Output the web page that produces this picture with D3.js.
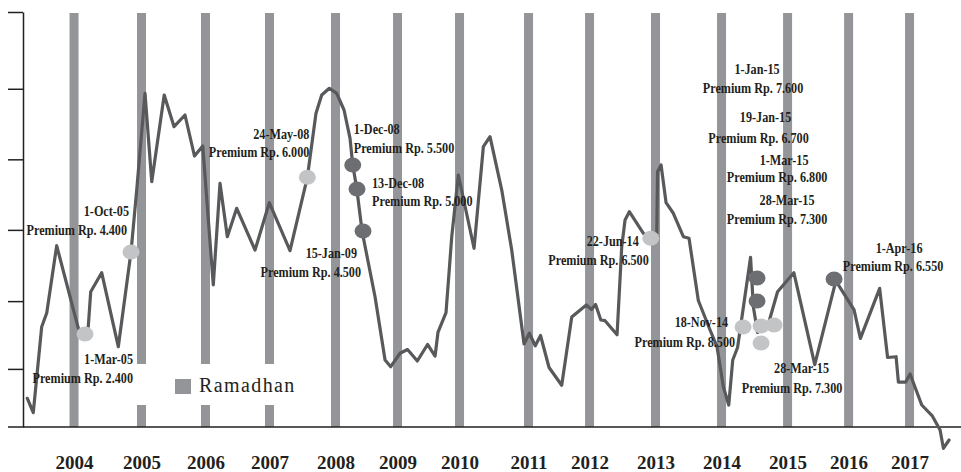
<!DOCTYPE html>
<html>
<head>
<meta charset="utf-8">
<script src="https://cdnjs.cloudflare.com/ajax/libs/d3/7.8.5/d3.min.js"></script>
<style>
  body { margin: 0; background: #fff; }
  .chart text { font-family: "Liberation Serif", "Times New Roman", serif; fill: #231f20; }
</style>
</head>
<body>
<div class="chart"></div>
<script>
// posisi waktu dalam tahun desimal, nilai indeks tanpa satuan (sumbu y tanpa label)
let lineT = [2004.096, 2004.186, 2004.314, 2004.390, 2004.541, 2004.869, 2004.970, 2005.020, 2005.057, 2005.223,
             2005.475, 2005.668, 2005.754, 2005.880, 2005.982, 2006.171, 2006.320, 2006.486, 2006.630, 2006.755,
             2006.915, 2007.017, 2007.128, 2007.270, 2007.548, 2007.764, 2008.078, 2008.341, 2008.472, 2008.559,
             2008.674, 2008.786, 2008.897, 2008.988, 2009.029, 2009.089, 2009.170, 2009.367, 2009.519, 2009.605,
             2009.746, 2009.860, 2010.008, 2010.163, 2010.277, 2010.322, 2010.443, 2010.530, 2010.630, 2010.868,
             2011.009, 2011.110, 2011.288, 2011.439, 2011.626, 2011.706, 2011.796, 2011.876, 2012.005, 2012.197,
             2012.349, 2012.570, 2012.649, 2012.710, 2012.790, 2012.854, 2013.036, 2013.107, 2013.157, 2013.222,
             2013.435, 2013.547, 2013.638, 2013.650, 2013.703, 2013.779, 2013.889, 2014.041, 2014.127, 2014.268,
             2014.446, 2014.552, 2014.647, 2014.729, 2014.790, 2014.863, 2015.060, 2015.102, 2015.166, 2015.325,
             2015.469, 2015.716, 2016.033, 2016.353, 2016.629, 2016.725, 2017.017, 2017.137, 2017.266, 2017.301,
             2017.410, 2017.478, 2017.655, 2017.811, 2017.933, 2017.983, 2018.069];
let lineV = [0.415, 0.207, 1.450, 1.648, 2.621, 1.427, 1.345, 1.450, 1.956, 2.231,
             1.161, 2.534, 3.426, 4.824, 3.546, 4.800, 4.342, 4.511, 3.918, 4.063,
             2.053, 3.523, 2.751, 3.162, 2.559, 3.243, 2.549, 3.610, 4.535, 4.800,
             4.897, 4.824, 4.583, 4.174, 3.788, 3.455, 2.834, 1.884, 0.969, 0.872,
             1.066, 1.120, 0.954, 1.193, 1.026, 1.373, 1.655, 2.751, 3.643, 2.584,
             4.052, 4.197, 3.426, 2.559, 1.200, 1.355, 1.175, 1.323, 0.860, 0.603,
             1.590, 1.764, 1.699, 1.771, 1.547, 1.537, 1.334, 2.607, 2.993, 3.113,
             2.800, 2.728, 2.800, 3.691, 3.788, 3.243, 3.090, 2.751, 2.728, 1.829,
             1.402, 1.157, 0.583, 0.318, 0.969, 1.149, 2.453, 1.739, 1.366, 1.475,
             1.956, 2.231, 0.901, 2.114, 1.692, 1.282, 2.005, 1.005, 1.016, 0.648,
             0.648, 0.766, 0.318, 0.166, -0.043, -0.308, -0.188];

// bulan Ramadhan tiap tahun (batang abu-abu) dan label tahunnya
let ramadhanT = [2004.804, 2005.827, 2006.797, 2007.767, 2008.768, 2009.708, 2010.648,
                 2011.694, 2012.619, 2013.619, 2014.620, 2015.621, 2016.546, 2017.470];
let yearLabels = ["2004", "2005", "2006", "2007", "2008", "2009", "2010",
                  "2011", "2012", "2013", "2014", "2015", "2016", "2017"];

let yTicks = [0.84, 1.82, 2.85, 3.87, 4.89, 6];

// perubahan harga Premium
let eventDate = ["1-Mar-05", "1-Oct-05", "24-May-08", "1-Dec-08", "13-Dec-08", "15-Jan-09", "22-Jun-14",
                 "18-Nov-14", "1-Jan-15", "19-Jan-15", "1-Mar-15", "28-Mar-15", "28-Mar-15", "1-Apr-16"];
let eventPrice = ["2.400", "4.400", "6.000", "5.500", "5.000", "4.500", "6.500",
                  "8.500", "7.600", "6.700", "6.800", "7.300", "7.300", "6.550"];
let eventType = ["naik", "naik", "naik", "turun", "turun", "turun", "naik",
                 "naik", "turun", "turun", "naik", "naik", "naik", "turun"];
let eventT = [2004.970, 2005.668, 2008.341, 2009.029, 2009.094, 2009.185, 2013.547,
              2014.946, 2015.158, 2015.158, 2015.219, 2015.416, 2015.219, 2016.326];
let eventV = [1.345, 2.530, 3.610, 3.788, 3.441, 2.834, 2.728,
              1.446, 2.154, 1.822, 1.460, 1.475, 1.214, 2.140];

// letak label relatif terhadap titik: anchor, dx/dy baris 1, dx/dy baris 2
let labelPos = [
  ["end", 48, 30, 48, 49], ["end", -2, -36, -4, -17], ["end", 2, -38, 2, -20],
  ["start", 1, -31, 1, -12], ["start", 15, -1, 15, 17], ["end", -6, 27, -2, 46],
  ["end", -12, 8, -2, 27], ["end", -15, 0, -8, 20], ["middle", 0, -204, -4, -185],
  ["middle", 8.5, -179, 1.5, -158], ["middle", 23, -161, 16, -144], ["middle", 13, -120, 3, -101],
  ["middle", 40.5, 30, 31, 50], ["middle", 65, -26, 59, -8]
];

let lineColor = "#58595b";
let barColor = "#939598";
let markerColor = {naik: "#c3c4c6", turun: "#6d6e71"};

let margin = {top: 12, right: 0, bottom: 45, left: 21};
let width = 961 - margin.left - margin.right,
    height = 472 - margin.top - margin.bottom;

let svg = d3.select(".chart").append("svg")
    .attr("width", width + margin.left + margin.right)
    .attr("height", height + margin.top + margin.bottom)
    .append("g")
    .attr("transform", "translate(" + margin.left + "," + margin.top + ")");

const xScale = d3.scaleLinear().domain([2004, 2018.25]).range([0, width]);
const yScale = d3.scaleLinear().domain([0, 6]).range([height, 0]);

let data = lineT.map((t, i) => ({t: t, v: lineV[i]}));

// batang Ramadhan
svg.selectAll(".ramadhan")
  .data(ramadhanT)
  .enter().append("rect")
  .attr("class", "ramadhan")
  .attr("x", d => xScale(d) - 4.5)
  .attr("y", 1)
  .attr("width", 9)
  .attr("height", height - 1)
  .attr("fill", barColor);

// legenda (dengan latar putih menutup batang)
let legend = svg.append("g").attr("transform", "translate(113, 352)");
legend.append("rect").attr("width", 186).attr("height", 41).attr("fill", "#fff");
legend.append("rect").attr("x", 41).attr("y", 15).attr("width", 16).attr("height", 15).attr("fill", barColor);
legend.append("text").attr("x", 65).attr("y", 28)
  .style("font-size", "20px").style("letter-spacing", "1.4px")
  .text("Ramadhan");

// sumbu y
let yAxis = svg.append("g")
  .attr("transform", "translate(2,0)")
  .call(d3.axisLeft(yScale).tickValues(yTicks).tickSize(15).tickSizeOuter(0).tickFormat(""));
yAxis.selectAll("line, path").attr("stroke", "#231f20").attr("stroke-width", 1.5);

// sumbu x
let xAxis = svg.append("g")
  .attr("transform", `translate(0, ${height})`)
  .call(d3.axisBottom(xScale).tickValues(ramadhanT).tickSize(0).tickPadding(29)
    .tickFormat((d, i) => yearLabels[i]));
xAxis.select(".domain").remove();
xAxis.selectAll("text")
  .attr("fill", "#231f20")
  .style("font-size", "19px").style("font-weight", "bold");
xAxis.append("line")
  .attr("x1", -13).attr("x2", width)
  .attr("stroke", "#231f20").attr("stroke-width", 1.3);

// garis harga
svg.append("path")
  .datum(data)
  .attr("fill", "none")
  .attr("stroke", lineColor)
  .attr("stroke-width", 3.2)
  .attr("stroke-linejoin", "round")
  .attr("stroke-linecap", "round")
  .attr("d", d3.line()
    .x(d => xScale(d.t))
    .y(d => yScale(d.v)));

// titik perubahan harga
svg.selectAll(".event")
  .data(eventT)
  .enter().append("ellipse")
  .attr("class", "event")
  .attr("cx", d => xScale(d))
  .attr("cy", (d, i) => yScale(eventV[i]))
  .attr("rx", 8.5)
  .attr("ry", 7.5)
  .attr("fill", (d, i) => markerColor[eventType[i]]);

// label
eventT.forEach(function(t, i) {
  let p = labelPos[i];
  let px = xScale(t), py = yScale(eventV[i]);
  let lines = [eventDate[i], "Premium Rp. " + eventPrice[i]];
  lines.forEach(function(txt, k) {
    svg.append("text")
      .attr("transform", `translate(${px + p[1 + 2 * k]},${py + p[2 + 2 * k]}) scale(0.84,1)`)
      .attr("text-anchor", p[0])
      .style("font-size", "14.5px")
      .style("font-weight", "bold")
      .text(txt);
  });
});
</script>
</body>
</html>
